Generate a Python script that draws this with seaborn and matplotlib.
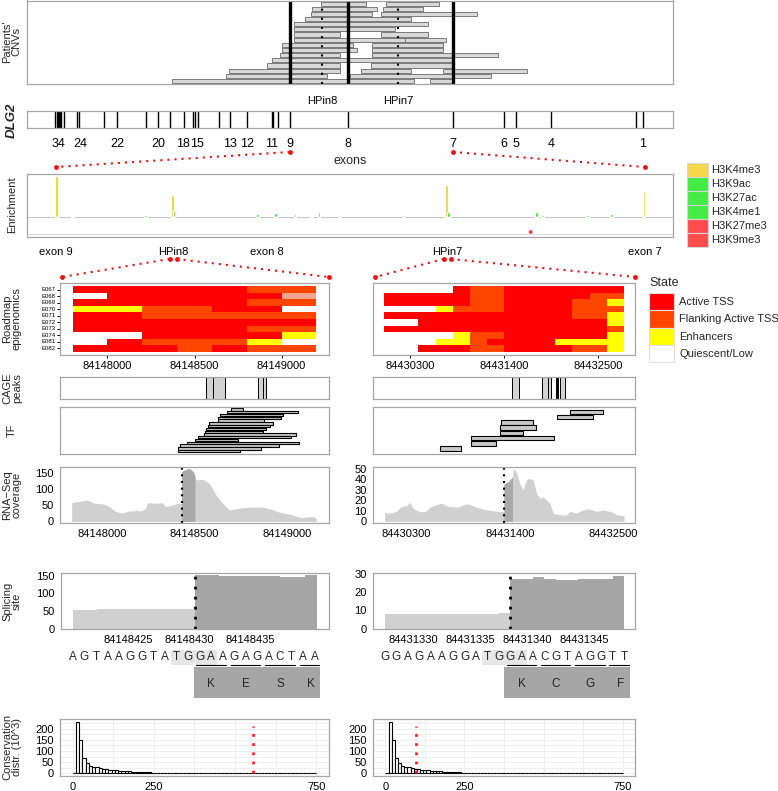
import numpy as np
import pandas as pd
import seaborn as sns
import matplotlib.pyplot as plt
from matplotlib.colors import ListedColormap

sns.set_style("white")
plt.rcParams['font.family'] = ['Liberation Sans', 'DejaVu Sans']
plt.rcParams['font.size'] = 8

W, H = 778, 791

# ---------------- data ----------------
hpin8, hpin7 = 84148430, 84431338
hpin8_mb, hpin7_mb = hpin8 / 1e6, hpin7 / 1e6
exon9_mb, exon8_mb, exon7_mb = 84.0277, 84.2458, 84.6354

# patients' CNVs in Mb, row 0 at the bottom
cnv_row = [0, 0, 1, 1, 2, 2, 2, 3, 3, 4, 5, 5, 6, 6, 7, 7, 8, 8, 9, 9, 10, 11, 12,
           13, 13, 14, 14, 15, 15]
cnv_start = [83.5888, 84.5505, 83.7910, 84.2526, 83.8022, 84.2925, 84.5978, 83.9425,
             84.3308, 83.9611, 83.9920, 84.3357, 83.9981, 84.3357, 83.9981, 84.3357,
             84.0442, 84.4574, 84.0442, 84.3681, 84.0442, 84.0442, 84.0851, 84.1074,
             84.3681, 84.1101, 84.3766, 84.1436, 84.3867]
cnv_end = [84.4909, 84.6350, 84.1681, 84.7776, 84.2154, 84.4786, 84.9127, 84.2154,
           84.6350, 84.6350, 84.2154, 84.8025, 84.2776, 84.5978, 84.2649, 84.5978,
           84.4574, 84.6100, 84.2154, 84.5419, 84.4213, 84.5419, 84.4786, 84.3357,
           84.7243, 84.3543, 84.5233, 84.3122, 84.5851]

# DLG2 exons (Mb)
exon_mb = [83.1555, 83.1600, 83.1644, 83.1689, 83.1734, 83.1778, 83.1879, 83.2374,
           83.2448, 83.3379, 83.3863, 83.4920, 83.5390, 83.5825, 83.6357, 83.6692,
           83.6756, 83.6879, 83.7660, 83.8059, 83.8703, 83.9611, 83.9660, 83.9835,
           84.0277, 84.2458, 84.6354, 84.8271, 84.8696, 85.0010, 85.3174, 85.3446]
exon_lab = ['34', '24', '22', '20', '18', '15', '13', '12', '11', '9', '8', '7',
            '6', '5', '4', '1']
exon_lab_mb = [83.1655, 83.2475, 83.3862, 83.5390, 83.6309, 83.6830, 83.8059,
               83.8692, 83.9623, 84.0277, 84.2458, 84.6354, 84.8260, 84.8706,
               85.0010, 85.3435]

# histone mark enrichment between exon 9 and exon 7
enr_mb = [84.0285, 84.0445, 84.1202, 84.1477, 84.1494, 84.2354, 84.2540, 84.2743,
          84.2915, 84.2991, 84.3197, 84.3868, 84.4308, 84.4325, 84.5237, 84.5299,
          84.5764, 84.6012, 84.6345, 84.5175]
enr_val = [41, 1.5, 2.5, 22, 7, 3, 4.5, 3, 1.5, 5, 2.5, 2.5, 32, 5, 5.5, 2.5, 2.5, 3,
           26, -15]
enr_mark = ['H3K4me3', 'H3K4me3', 'H3K9ac', 'H3K4me3', 'H3K27ac', 'H3K4me1',
            'H3K27ac', 'H3K4me1', 'H3K4me3', 'H3K27ac', 'H3K4me1', 'H3K4me1',
            'H3K4me3', 'H3K27ac', 'H3K9ac', 'H3K4me1', 'H3K4me1', 'H3K4me1',
            'H3K4me3', 'H3K27me3']
mark_names = ['H3K4me3', 'H3K9ac', 'H3K27ac', 'H3K4me1', 'H3K27me3', 'H3K9me3']
mark_cols = ['#F6D64A', '#45EC45', '#45EC45', '#45EC45', '#FF4D4D', '#FF4D4D']
bar_cols = ['#F2CC1F', '#2FE02F', '#2FE02F', '#2FE02F', '#FF3030', '#FF3030']

# Roadmap chromatin states: 0 active TSS, 1 flanking, 2 enhancer, 3 quiescent, 4 other
epi_rows = ['E067', 'E068', 'E069', 'E070', 'E071', 'E072', 'E073', 'E074', 'E081', 'E082']
epi_left = [[0, 0, 0, 0, 0, 1, 1],
            [3, 0, 0, 0, 0, 0, 4],
            [0, 0, 0, 0, 0, 1, 1],
            [2, 2, 1, 1, 0, 0, 3],
            [0, 0, 1, 1, 1, 1, 1],
            [0, 0, 0, 0, 0, 0, 0],
            [0, 0, 0, 0, 0, 1, 1],
            [3, 3, 0, 0, 0, 0, 2],
            [3, 0, 1, 1, 1, 2, 3],
            [0, 0, 0, 1, 0, 1, 1]]
epi_right = [[3, 3, 3, 3, 0, 1, 1, 0, 0, 0, 0, 0, 0, 0],
             [0, 0, 0, 0, 0, 1, 1, 0, 0, 0, 0, 0, 1, 1],
             [0, 0, 0, 0, 0, 1, 1, 0, 0, 0, 0, 1, 1, 2],
             [3, 3, 3, 2, 1, 1, 1, 0, 0, 0, 0, 1, 1, 1],
             [0, 0, 0, 0, 0, 0, 0, 0, 0, 0, 0, 1, 1, 2],
             [3, 3, 0, 0, 0, 0, 0, 0, 0, 0, 0, 0, 0, 2],
             [0, 0, 0, 0, 0, 0, 0, 0, 0, 0, 0, 0, 0, 1],
             [3, 3, 3, 3, 2, 1, 1, 0, 0, 0, 0, 0, 0, 2],
             [3, 3, 3, 2, 2, 1, 0, 0, 0, 0, 2, 2, 2, 2],
             [3, 3, 0, 0, 0, 1, 1, 0, 0, 0, 0, 1, 1, 2]]
epi_left_start, epi_right_start, epi_bin = 84147800, 84430000, 200
state_names = ['Active TSS', 'Flanking Active TSS', 'Enhancers', 'Quiescent/Low']
state_cols = ['#FF0000', '#FF4500', '#FFFF00', '#FFFFFF', '#F2A48C']

# CAGE peaks
cage_left = [(84148562, 84148598), (84148598, 84148667), (84148846, 84148870),
             (84148870, 84148888)]
cage_right = [(84431425, 84431496), (84431748, 84431802), (84431802, 84431834),
              (84431887, 84431895), (84431900, 84431908), (84431933, 84431990)]

# TF binding sites, listed top to bottom
tf_left = [(84148698, 84148765), (84148676, 84149060), (84148640, 84148982),
           (84148629, 84148969), (84148625, 84148875), (84148576, 84148924),
           (84148571, 84148910), (84148562, 84148888), (84148556, 84148870),
           (84148553, 84149051), (84148516, 84149024), (84148502, 84148734),
           (84148457, 84149065), (84148420, 84148957), (84148411, 84148861),
           (84148408, 84148747)]
tf_right = [(84432040, 84432387), (84431905, 84432288), (84431305, 84431649),
            (84431294, 84431677), (84431301, 84431543), (84430992, 84431869),
            (84430992, 84431251), (84430655, 84430886)]

# RNA-Seq coverage
rna_left_pos = [84147833, 84147850, 84147873, 84147890, 84147909, 84147925, 84147937,
                84147950, 84147964, 84147985, 84148000, 84148018, 84148036, 84148055,
                84148072, 84148090, 84148109, 84148127, 84148145, 84148163, 84148181,
                84148195, 84148208, 84148222, 84148236, 84148240, 84148245, 84148268,
                84148290, 84148308, 84148326, 84148335, 84148344, 84148362, 84148381,
                84148400, 84148417, 84148429, 84148430, 84148441, 84148453, 84148462,
                84148471, 84148480, 84148489, 84148496, 84148502, 84148507, 84148525,
                84148544, 84148562, 84148580, 84148598, 84148616, 84148634, 84148652,
                84148670, 84148689, 84148716, 84148743, 84148779, 84148815, 84148843,
                84148870, 84148897, 84148924, 84148951, 84148978, 84149005, 84149033,
                84149051, 84149069, 84149087, 84149105, 84149123, 84149142, 84149160]
rna_left_cov = [58, 60, 61, 63, 66, 64, 62, 57, 56, 55, 54, 51, 46, 38, 31, 28, 26, 29,
                33, 32, 34, 33, 32, 36, 41, 50, 58, 57, 56, 57, 57, 50, 46, 48, 51, 54,
                56, 56, 153, 158, 160, 162, 163, 160, 156, 150, 140, 128, 129, 130, 124,
                117, 100, 82, 68, 56, 45, 36, 38, 41, 43, 44, 44, 44, 40, 36, 30, 26,
                23, 20, 16, 13, 12, 13, 14, 15, 10]
rna_left_dark_end = 84148502
rna_right_pos = [84430069, 84430095, 84430122, 84430158, 84430194, 84430220, 84430247,
                 84430273, 84430300, 84430318, 84430336, 84430354, 84430371, 84430406,
                 84430442, 84430478, 84430513, 84430540, 84430566, 84430593, 84430620,
                 84430646, 84430673, 84430700, 84430726, 84430762, 84430797, 84430833,
                 84430868, 84430904, 84430939, 84430975, 84431010, 84431046, 84431081,
                 84431117, 84431152, 84431188, 84431223, 84431259, 84431294, 84431337,
                 84431338, 84431360, 84431383, 84431406, 84431429, 84431436, 84431454,
                 84431472, 84431490, 84431507, 84431525, 84431543, 84431560, 84431578,
                 84431596, 84431614, 84431632, 84431649, 84431667, 84431685, 84431703,
                 84431720, 84431738, 84431756, 84431773, 84431791, 84431809, 84431827,
                 84431845, 84431862, 84431898, 84431933, 84431969, 84432004, 84432040,
                 84432076, 84432111, 84432147, 84432182, 84432218, 84432253, 84432289,
                 84432324, 84432360, 84432395, 84432431, 84432466, 84432502, 84432537,
                 84432576, 84432615]
rna_right_cov = [8.4, 8.0, 7.8, 8.6, 9.4, 12.0, 14.1, 14.4, 14.7, 16.5, 18.1, 15.0,
                 12.5, 10.5, 9.4, 9.0, 10.0, 12.4, 14.1, 15.0, 15.6, 16.5, 17.2, 16.0,
                 14.7, 14.0, 14.1, 13.5, 14.1, 15.5, 16.6, 15.8, 14.7, 13.5, 12.5, 11.5,
                 10.9, 10.5, 10.0, 9.6, 9.4, 9.4, 35.3, 36.5, 37.5, 40.0, 42, 50, 48.5,
                 46.9, 41.0, 35.9, 32.5, 29.7, 35.0, 39.1, 40.5, 40.6, 40.0, 39.1, 33.0,
                 26.6, 24.0, 21.9, 22.5, 23.4, 21.5, 20.3, 18.5, 17.2, 12.0, 7.8, 7.0,
                 6.3, 6.0, 6.3, 9.4, 8.5, 7.8, 9.5, 10.9, 11.5, 11.6, 10.5, 9.4, 10.2,
                 10.9, 10.0, 9.4, 8.0, 6.3, 5.8, 5.3]
rna_right_dark_end = 84431429

# per-base coverage around the splicing sites
spl_left_pos = list(range(84148421, 84148441))
spl_left_cov = [54, 54, 55, 55, 55, 56, 56, 57, 57, 57,
                153, 153, 150, 150, 150, 150, 149, 148, 147, 153]
spl_right_pos = list(range(84431328, 84431349))
spl_right_cov = [8.0, 8.0, 8.1, 8.1, 8.2, 8.2, 8.2, 8.3, 8.3, 8.3, 8.4,
                 27.4, 27.4, 28.3, 27.4, 26.5, 26.5, 27.4, 27.4, 27.4, 28.7]

# sequences and translated codons
seq_left = "AGTAAGGTATGGAAGAGACTAA"
seq_right = "GGAGAAGGATGGAACGTAGGTT"
prot_left = ['K', 'E', 'S', 'K']
prot_right = ['K', 'C', 'G', 'F']
codon_start = [11, 14, 17, 20]

# conservation distribution (10^3), bins of 10 from 0 to 750
cons_edges = list(range(0, 760, 10))
cons_counts = [0, 232, 150, 68, 45, 35, 30, 27, 24, 21, 19, 17, 15, 13.5, 12, 11, 10,
               9, 8, 7.5, 7, 6.5, 6, 5.5, 3, 2.8, 2.6, 2.4, 2.2, 2.0, 1.9, 1.8, 1.7,
               1.6, 1.5, 1.4, 1.3, 0.6, 0.55, 0.5, 0.5, 0.45, 0.45, 0.4, 0.4, 0.4,
               0.35, 0.35, 0.35, 0.3, 0.3, 0.3, 0.3, 0.25, 0.25, 0.25, 0.25, 0.2, 0.2,
               0.2, 0.2, 0.2, 0.2, 0.15, 0.15, 0.15, 0.15, 0.15, 0.1, 0.1, 0.1, 0.1,
               0.1, 0.1, 0.1]
cons_left_mark, cons_right_mark = 555, 97

# ---------------- drawing ----------------
fig = plt.figure(figsize=(W / 100, H / 100), dpi=100)
EDGE = '#a6a6a6'


def add_ax(x0, y0, x1, y1):
    return fig.add_axes([x0 / W, 1 - y1 / H, (x1 - x0) / W, (y1 - y0) / H])


def frame(ax):
    for s in ax.spines.values():
        s.set_visible(True)
        s.set_color(EDGE)
        s.set_linewidth(0.9)
    ax.tick_params(length=2.5, width=0.7, pad=2, labelsize=8, colors='black')


def ylab(text, y, x=12, **kw):
    kw.setdefault('fontsize', 8)
    fig.text(x / W, 1 - y / H, text, rotation=90, ha='center', va='center',
             linespacing=0.95, **kw)


# patients' CNVs
ax = add_ax(27, 0.5, 673, 84)
frame(ax)
ax.barh(cnv_row, np.array(cnv_end) - np.array(cnv_start), left=cnv_start, height=0.8,
        color='#d9d9d9', edgecolor='#7a7a7a', linewidth=0.7)
for x in [exon9_mb, exon8_mb, exon7_mb]:
    ax.axvline(x, color='black', lw=2.4)
for x in [hpin8_mb, hpin7_mb]:
    ax.axvline(x, color='black', lw=1.5, ls=(0, (1, 3.4)))
ax.set_xlim(83.050, 85.455)
ax.set_ylim(-0.6, 15.6)
ax.set_yticks([])
ax.set_xticks([hpin8_mb, hpin7_mb], ['HPin8', 'HPin7'])
ax.tick_params(axis='x', length=0, pad=9)
ylab("Patients'\nCNVs", 42)

# DLG2 gene
ax = add_ax(27, 111, 673, 128)
frame(ax)
ax.vlines(exon_mb, 0, 1, color='black', lw=1.0)
ax.set_xlim(83.050, 85.455)
ax.set_ylim(0, 1)
ax.set_yticks([])
ax.set_xticks(exon_lab_mb, exon_lab)
ax.tick_params(axis='x', length=0, pad=7, labelsize=9)
ax.set_xlabel('exons', fontsize=9, labelpad=4)
ax_dlg = ax
ylab('DLG2', 120, fontweight='bold', style='italic', fontsize=9.5)

# enrichment
ax = add_ax(27, 174, 673, 237)
frame(ax)
enr = pd.DataFrame({'pos': enr_mb, 'val': enr_val, 'mark': enr_mark})
ax.axhline(0, color='#c8c8c8', lw=0.8, zorder=0)
ax.axhline(-17, color='#dddddd', lw=0.8, zorder=0)
col_of = dict(zip(mark_names, bar_cols))
pos_enr = enr[enr['val'] > 0]
ax.bar(pos_enr['pos'], pos_enr['val'], width=0.0029,
       color=[col_of[m] for m in pos_enr['mark']])
neg_enr = enr[enr['val'] < 0]
sns.scatterplot(x=neg_enr['pos'], y=neg_enr['val'], ax=ax, color='#FF3030', s=7,
                edgecolor='none', legend=False)
ax.set_xlim(83.9977, 84.6645)
ax.set_ylim(-20, 43)
ax.set_yticks([])
ax.set_xticks([exon9_mb, hpin8_mb, exon8_mb, hpin7_mb, exon7_mb],
              ['exon 9', 'HPin8', 'exon 8', 'HPin7', 'exon 7'])
ax.tick_params(axis='x', length=4, pad=3)
ax.set_xlabel('')
ax.set_ylabel('')
ax_enr = ax
ylab('Enrichment', 205)

# enrichment legend
lg = add_ax(684, 160, 778, 250)
lg.set_xlim(684, 778)
lg.set_ylim(250, 160)
lg.axis('off')
for i, (name, col) in enumerate(zip(mark_names, mark_cols)):
    lg.add_patch(plt.Rectangle((687, 163 + 14 * i), 21, 14, fc=col, ec='#d6d6d6', lw=0.8))
    lg.text(711, 170 + 14 * i, name, va='center', ha='left', fontsize=8)

# roadmap heatmaps
cmap = ListedColormap(state_cols)
ax_rl = add_ax(60, 283, 329, 355)
sns.heatmap(np.array(epi_left), ax=ax_rl, cmap=cmap, vmin=-0.5, vmax=4.5, cbar=False,
            xticklabels=False, yticklabels=epi_rows, linewidths=0)
ax_rr = add_ax(373, 283, 635, 355)
sns.heatmap(np.array(epi_right), ax=ax_rr, cmap=cmap, vmin=-0.5, vmax=4.5, cbar=False,
            xticklabels=False, yticklabels=False, linewidths=0)
for ax, start, ticks, n in [(ax_rl, epi_left_start, [84148000, 84148500, 84149000], 7),
                            (ax_rr, epi_right_start, [84430300, 84431400, 84432500], 14)]:
    frame(ax)
    pad = 0.363 if n == 7 else 0.66
    ax.set_xlim(-pad, n + pad)
    ax.set_ylim(10.5, -0.5)
    ax.set_xticks([(t - start) / epi_bin for t in ticks], [str(t) for t in ticks])
    ax.tick_params(axis='x', bottom=True, length=2.5, pad=2)
ax_rl.tick_params(axis='y', left=True, length=2, pad=1, labelsize=4.3)
for t in ax_rl.get_yticklabels():
    t.set_rotation(0)
ylab('Roadmap\nepigenomics', 319)

# state legend
lg = add_ax(645, 272, 778, 366)
lg.set_xlim(645, 778)
lg.set_ylim(366, 272)
lg.axis('off')
lg.text(649, 283, 'State', fontsize=9, va='center', ha='left')
for i, (name, col) in enumerate(zip(state_names, state_cols)):
    lg.add_patch(plt.Rectangle((649, 293 + 17.3 * i), 25, 17.3, fc=col, ec='#e0e0e0', lw=0.8))
    lg.text(679, 302 + 17.3 * i, name, va='center', ha='left', fontsize=8)

xl_left = (84147770, 84149229)
xl_right = (84429945, 84432732)

# CAGE peaks
for box, peaks, xl in [((60, 377, 329, 399), cage_left, xl_left),
                       ((373, 377, 635, 399), cage_right, xl_right)]:
    ax = add_ax(*box)
    frame(ax)
    s = np.array([p[0] for p in peaks])
    e = np.array([p[1] for p in peaks])
    ax.bar(s, 1, width=e - s, align='edge', color='#d3d3d3', edgecolor='black', lw=0.7)
    ax.set_xlim(*xl)
    ax.set_ylim(0, 1)
    ax.set_xticks([])
    ax.set_yticks([])
ylab('CAGE\npeaks', 388)

# TF
for box, sites, xl in [((60, 407, 329, 454), tf_left, xl_left),
                       ((373, 407, 635, 454), tf_right, xl_right)]:
    ax = add_ax(*box)
    frame(ax)
    n = len(sites)
    rows = np.arange(n)[::-1]
    s = np.array([p[0] for p in sites])
    e = np.array([p[1] for p in sites])
    ax.barh(rows, e - s, left=s, height=0.85, color='#c8c8c8', edgecolor='black', lw=0.8)
    ax.set_xlim(*xl)
    ax.set_ylim(-1.0, n - 0.1)
    ax.set_xticks([])
    ax.set_yticks([])
ylab('TF', 430)

# RNA-seq coverage
for box, pos, cov, hp, dark_end, xl, yl, yt, xt in [
        ((60, 467, 329, 523), rna_left_pos, rna_left_cov, hpin8, rna_left_dark_end,
         xl_left, (-5, 168), [0, 50, 100, 150], [84148000, 84148500, 84149000]),
        ((373, 467, 635, 523), rna_right_pos, rna_right_cov, hpin7, rna_right_dark_end,
         xl_right, (-1.6, 51.6), [0, 10, 20, 30, 40, 50], [84430300, 84431400, 84432500])]:
    ax = add_ax(*box)
    frame(ax)
    pos = np.array(pos)
    cov = np.array(cov)
    ax.fill_between(pos, 0, cov, color='#d0d0d0', lw=0)
    m = (pos >= hp) & (pos <= dark_end)
    ax.fill_between(pos, 0, cov, where=m, color='#a9a9a9', lw=0)
    ax.axvline(hp, color='black', lw=1.5, ls=(0, (1, 2.2)))
    ax.set_xlim(*xl)
    ax.set_ylim(*yl)
    ax.set_yticks(yt)
    ax.set_xticks(xt, [str(t) for t in xt])
ylab('RNA\u2212Seq\ncoverage', 495)

# splicing sites
for box, pos, cov, n_light, xl, yl, yt, xt in [
        ((61, 573, 329, 629), spl_left_pos, spl_left_cov, 10, (84148419.52, 84148441.48),
         (-0.5, 158), [0, 50, 100, 150], [84148425, 84148430, 84148435]),
        ((373, 573, 635, 629), spl_right_pos, spl_right_cov, 11, (84431326.45, 84431349.47),
         (-0.2, 30.6), [0, 10, 20, 30], [84431330, 84431335, 84431340, 84431345])]:
    ax = add_ax(*box)
    frame(ax)
    cols = ['#d0d0d0'] * n_light + ['#a6a6a6'] * (len(pos) - n_light)
    ax.bar(pos, cov, width=1.0, color=cols, lw=0)
    ax.axvline(pos[n_light] - 0.5, color='black', lw=2, ls=(0, (1, 2.6)))
    ax.set_xlim(*xl)
    ax.set_ylim(*yl)
    ax.set_yticks(yt)
    ax.set_xticks(xt, [str(t) for t in xt])
ylab('Splicing\nsite', 601)

# sequences
for box, seq, prot, x0, step in [((61, 645, 329, 702), seq_left, prot_left, 73, 11.5),
                                 ((373, 645, 635, 702), seq_right, prot_right, 385, 11.38)]:
    ax = add_ax(*box)
    ax.axis('off')
    ax.set_xlim((box[0] - x0) / step, (box[2] - x0) / step)
    ax.set_ylim(702, 645)
    ax.add_patch(plt.Rectangle((8.5, 650), 4, 15, fc='#e6e6e6', ec='none'))
    ax.add_patch(plt.Rectangle((10.5, 667), 11, 31, fc='#a6a6a6', ec='none'))
    for i, ch in enumerate(seq):
        ax.text(i, 657, ch, ha='center', va='center', fontsize=8.5)
    for c, p in zip(codon_start, prot):
        ax.plot([c - 0.3, min(c + 2.3, len(seq) - 0.6)], [665, 665], color='black', lw=0.8)
        ax.text(c + 1 if c + 2 < len(seq) else c + 0.7, 684, p, ha='center', va='center',
                fontsize=8.5)

# conservation
for box, mark in [((60, 719, 329, 776), cons_left_mark), ((373, 719, 635, 776), cons_right_mark)]:
    ax = add_ax(*box)
    frame(ax)
    centers = [e + 5 for e in cons_edges[:-1]]
    sns.histplot(x=centers, weights=cons_counts, bins=cons_edges, ax=ax, color='white',
                 edgecolor='black', linewidth=0.8, alpha=1)
    ax.set_xticks([0, 250, 750])
    ax.set_xticks([125, 375, 500, 625], minor=True)
    ax.set_yticks([0, 50, 100, 150, 200])
    ax.set_yticks([25, 75, 125, 175, 225], minor=True)
    ax.grid(which='both', color='#ebebeb', lw=0.6)
    ax.set_axisbelow(True)
    ax.tick_params(which='minor', length=0)
    ax.vlines(mark, 0, 212, color='#ff2020', lw=2, ls=(0, (1, 2.3)), zorder=5)
    ax.set_xlim(-39, 789)
    ax.set_ylim(-11.6, 243.6)
    ax.set_xlabel('')
    ax.set_ylabel('')
ylab('Conservation\ndistr. (10^3)', 747)

# red zoom connectors in figure pixels
ov = fig.add_axes([0, 0, 1, 1], zorder=10)
ov.set_xlim(0, W)
ov.set_ylim(0, H)
ov.axis('off')
ov.patch.set_alpha(0)


def px_x(ax, x):
    return ax.transData.transform((x, 0))[0]


def top(ax):
    return ax.get_position().y1 * H


def bottom(ax):
    return ax.get_position().y0 * H


links = []
for ex in [exon9_mb, exon7_mb]:
    links.append(((px_x(ax_dlg, ex), bottom(ax_dlg) - 24), (px_x(ax_enr, ex), top(ax_enr) + 7)))
for hp, axr in [(hpin8_mb, ax_rl), (hpin7_mb, ax_rr)]:
    xh = px_x(ax_enr, hp)
    b = axr.get_position()
    links.append(((xh - 3.5, bottom(ax_enr) - 22), (b.x0 * W + 2, top(axr) + 6)))
    links.append(((xh + 3.5, bottom(ax_enr) - 22), (b.x1 * W, top(axr) + 6)))
for (xa, ya), (xb, yb) in links:
    ov.plot([xa, xb], [ya, yb], color='#ee1111', lw=1.5, ls=(0, (1, 2.4)))
    ov.plot([xa, xb], [ya, yb], 'o', color='#ee1111', ms=3.5, mec='none')

fig.savefig('out.png', dpi=100)
